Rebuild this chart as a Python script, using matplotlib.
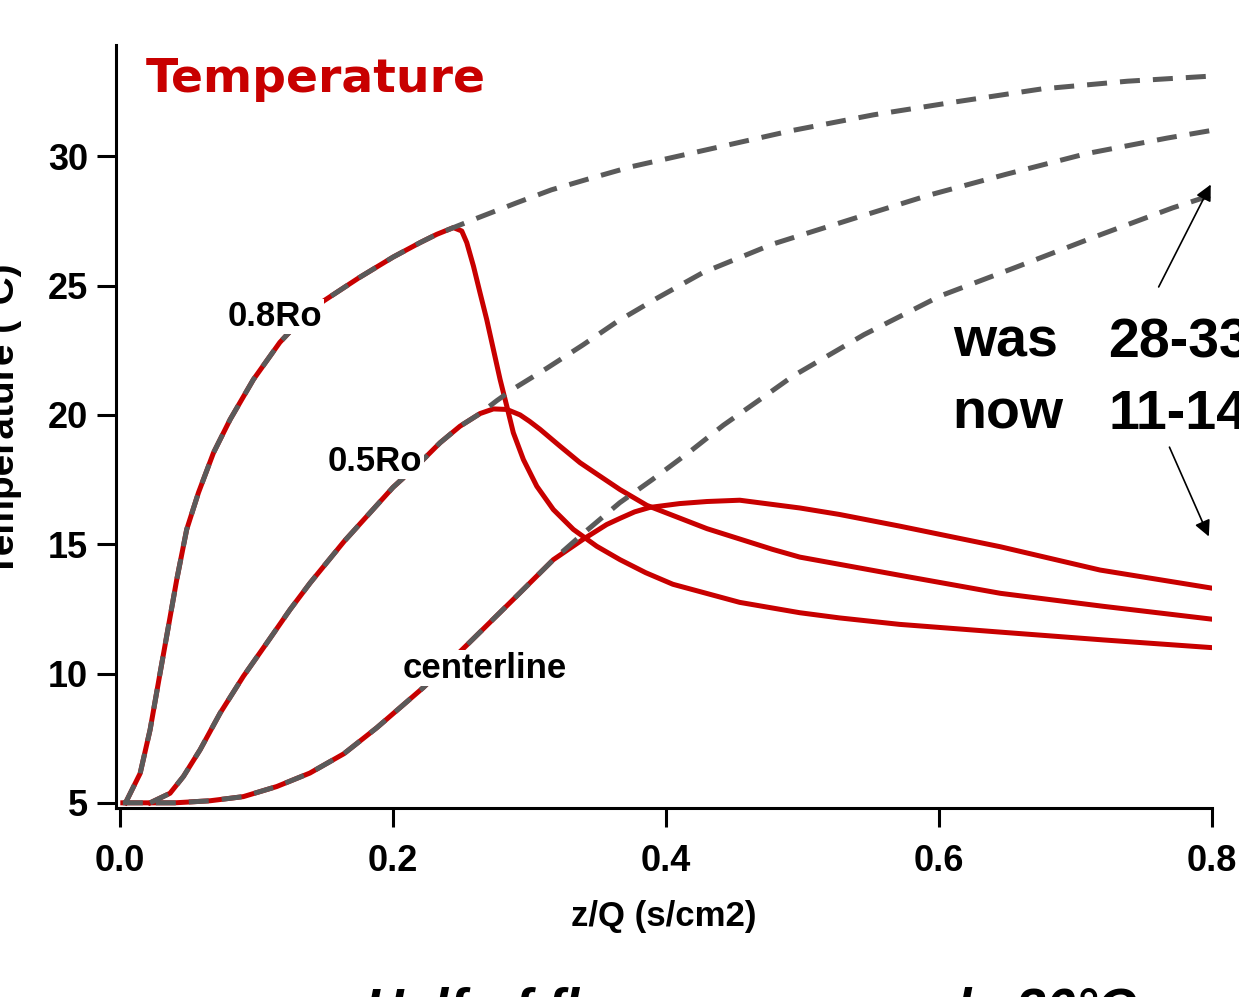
import numpy as np
import matplotlib.pyplot as plt

# --- data ---
# rising part shared by "was" and "now" (red with gray dashes on top)
x_08_rise = [0.004, 0.0147, 0.022, 0.0293, 0.0354, 0.0415, 0.0488, 0.0574, 0.0684, 0.0806,
             0.0977, 0.117, 0.133, 0.149, 0.175, 0.200, 0.2198, 0.232, 0.2442]
t_08_rise = [5.0, 6.14, 7.83, 10.02, 11.82, 13.63, 15.57, 16.99, 18.53, 19.82,
             21.37, 22.8, 23.7, 24.4, 25.3, 26.1, 26.66, 26.98, 27.24]
x_08_now = [0.2503, 0.254, 0.2589, 0.2637, 0.2686, 0.2735, 0.2784, 0.2833, 0.2881, 0.2955,
            0.3053, 0.3174, 0.3321, 0.3492, 0.3663, 0.385, 0.405, 0.454, 0.498, 0.527, 0.571,
            0.645, 0.720, 0.800]
t_08_now = [27.11, 26.66, 25.75, 24.72, 23.69, 22.53, 21.37, 20.34, 19.31, 18.27,
            17.24, 16.34, 15.57, 14.92, 14.40, 13.9, 13.45, 12.75, 12.35, 12.15, 11.9,
            11.6, 11.3, 11.0]
x_08_was = [0.2613, 0.2906, 0.316, 0.345, 0.375, 0.434, 0.493, 0.552, 0.612, 0.675, 0.738, 0.800]
t_08_was = [27.6, 28.2, 28.7, 29.15, 29.6, 30.3, 31.0, 31.6, 32.1, 32.6, 32.9, 33.1]

x_05_rise = [0.022, 0.0366, 0.0464, 0.0586, 0.0733, 0.0903, 0.1075, 0.1245, 0.1392, 0.164,
             0.200, 0.2198, 0.2344, 0.249, 0.2637]
t_05_rise = [5.0, 5.37, 6.02, 7.05, 8.47, 9.89, 11.18, 12.47, 13.50, 15.1,
             17.2, 18.15, 18.92, 19.56, 20.05]
x_05_now = [0.2735, 0.2833, 0.293, 0.300, 0.3077, 0.3223, 0.337, 0.3516, 0.3663, 0.386, 0.430,
            0.478, 0.498, 0.571, 0.645, 0.720, 0.800]
t_05_now = [20.23, 20.21, 20.0, 19.75, 19.44, 18.79, 18.15, 17.63, 17.11, 16.5, 15.6,
            14.8, 14.5, 13.8, 13.1, 12.6, 12.1]
x_05_was = [0.276, 0.288, 0.3126, 0.339, 0.364, 0.393, 0.427, 0.478, 0.538, 0.593, 0.649,
            0.708, 0.767, 0.800]
t_05_was = [20.55, 21.0, 21.8, 22.7, 23.6, 24.5, 25.5, 26.6, 27.6, 28.5, 29.3,
            30.1, 30.7, 31.0]

x_cl_rise = [0.002, 0.040, 0.066, 0.0903, 0.1148, 0.139, 0.164, 0.188, 0.222, 0.256,
             0.288, 0.3174]
t_cl_rise = [5.0, 5.0, 5.08, 5.24, 5.63, 6.15, 6.9, 7.9, 9.45, 11.2,
             12.86, 14.4]
x_cl_now = [0.339, 0.3565, 0.3663, 0.377, 0.388, 0.410, 0.430, 0.454, 0.498, 0.527, 0.571,
            0.645, 0.718, 0.800]
t_cl_now = [15.18, 15.76, 16.0, 16.25, 16.42, 16.57, 16.65, 16.7, 16.4, 16.15, 15.7,
            14.9, 14.0, 13.3]
x_cl_was = [0.339, 0.366, 0.390, 0.418, 0.442, 0.469, 0.493, 0.545, 0.601, 0.656, 0.715,
            0.771, 0.800]
t_cl_was = [15.4, 16.6, 17.5, 18.6, 19.6, 20.6, 21.5, 23.1, 24.6, 25.7, 26.9,
            28.0, 28.5]

x_ticks = [0.0, 0.2, 0.4, 0.6, 0.8]
y_ticks = [5, 10, 15, 20, 25, 30]

red = '#C80000'
gray = '#5A5A5A'
narrow = ['Liberation Sans Narrow', 'Liberation Sans', 'DejaVu Sans']

fig = plt.figure(figsize=(12.39, 9.97), dpi=100)
ax = fig.add_axes([116/1239, 1-808/997, (1212-116)/1239, (808-45)/997])

curves = [
    (x_08_rise, t_08_rise, x_08_now, t_08_now, x_08_was, t_08_was),
    (x_05_rise, t_05_rise, x_05_now, t_05_now, x_05_was, t_05_was),
    (x_cl_rise, t_cl_rise, x_cl_now, t_cl_now, x_cl_was, t_cl_was),
]
for xr, tr, xn, tn, xw, tw in curves:
    ax.plot(xr + xn, tr + tn, color=red, lw=3.6, solid_joinstyle='round', zorder=2)
    ax.plot(xr + xw, tr + tw, color=gray, lw=3.6, dashes=(4, 2.6), zorder=3)

ax.set_xlim(-0.003, 0.8)
ax.set_ylim(4.8, 34.3)
ax.set_xticks(x_ticks)
ax.set_xticklabels(['%.1f' % v for v in x_ticks])
ax.set_yticks(y_ticks)
for s in ['top', 'right']:
    ax.spines[s].set_visible(False)
for s in ['left', 'bottom']:
    ax.spines[s].set_linewidth(2.2)
ax.tick_params(length=14, width=2.2, labelsize=26, direction='out')
ax.tick_params(axis='x', pad=12)
ax.tick_params(axis='y', pad=6)
for lab in ax.get_xticklabels() + ax.get_yticklabels():
    lab.set_family(narrow)
    lab.set_weight('bold')

ax.set_xlabel('z/Q (s/cm2)', family=narrow, weight='bold', fontsize=25, labelpad=15)
fig.text(4/1239, 1-420/997, 'Temperature (°C)', rotation=90, ha='center', va='center',
         family=narrow, weight='bold', fontsize=28)

ax.text(0.019, 32.95, 'Temperature', color=red, fontsize=34, weight='bold', va='center')

lbl = dict(family=narrow, weight='bold', fontsize=25, ha='center', va='center',
           bbox=dict(facecolor='white', edgecolor='none', pad=1), zorder=5)
ax.text(0.1136, 23.8, '0.8Ro', **lbl)
ax.text(0.187, 18.2, '0.5Ro', **lbl)
ax.text(0.267, 10.2, 'centerline', **lbl)

big = dict(family=narrow, weight='bold', fontsize=40, va='center', clip_on=False)
ax.text(0.610, 22.8, 'was', **big)
ax.text(0.610, 20.0, 'now', **big)
ax.text(0.724, 22.8, '28-33°C', **big)
ax.text(0.724, 20.0, '11-14°C', **big)

arrow = dict(arrowstyle='-|>', color='black', lw=1.2, mutation_scale=24)
ax.annotate('', xy=(0.8, 29.0), xytext=(0.760, 24.85), arrowprops=arrow, annotation_clip=False)
ax.annotate('', xy=(0.7985, 15.2), xytext=(0.768, 18.85), arrowprops=arrow, annotation_clip=False)

fig.text(750/1239, 1-986/997, 'Half of flow now exceeds 30°C', ha='center', va='top',
         family=narrow, weight='bold', style='italic', fontsize=38.5)

fig.savefig('out.png', dpi=100)
